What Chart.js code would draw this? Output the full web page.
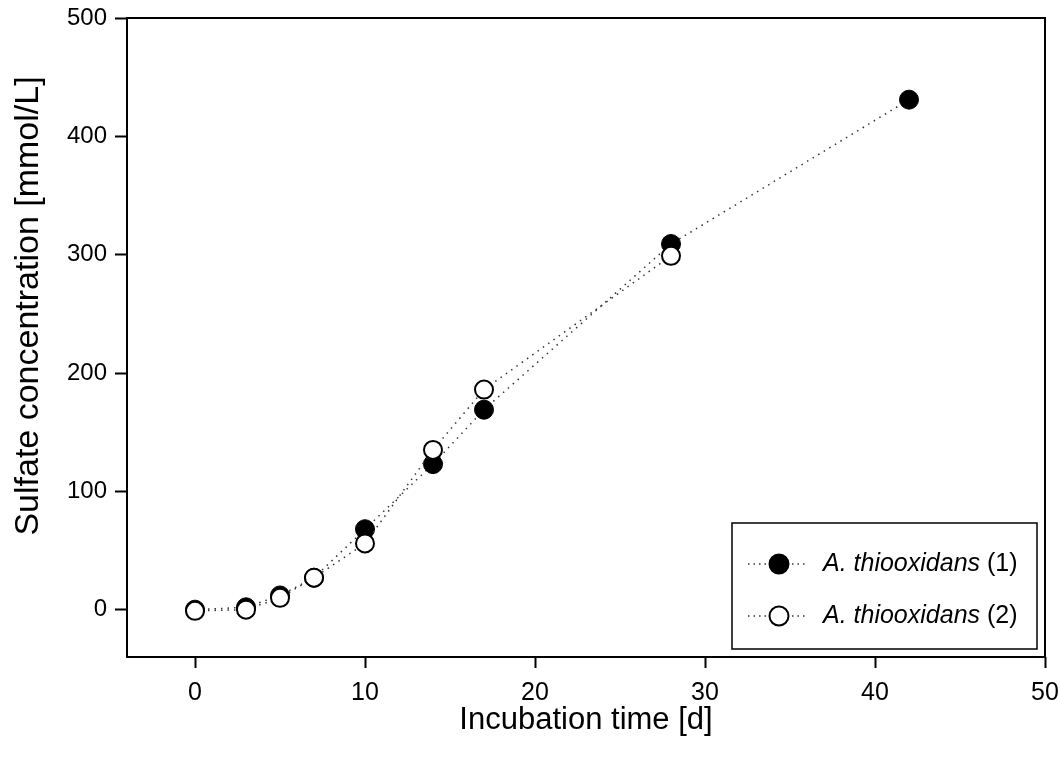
<!DOCTYPE html>
<html>
<head>
<meta charset="utf-8">
<script src="https://cdn.jsdelivr.net/npm/chart.js@4"></script>
<style>
  html, body { margin: 0; padding: 0; background: #fff; }
  #wrap { width: 1060px; height: 764px; }
</style>
</head>
<body>
<div id="wrap"><canvas id="sulfate" width="1060" height="764"></canvas></div>
<script>
// incubation days and sulfate values [mmol/L]
const days = [0, 3, 5, 7, 10, 14, 17, 28, 42];
const culture1 = [0, 2, 12, 27, 68, 123, 169, 309, 431];
const days2 = [0, 3, 5, 7, 10, 14, 17, 28];
const culture2 = [-1, 0, 10, 27, 56, 135, 186, 299];
const xTicks = [0, 10, 20, 30, 40, 50];
const yTicks = [0, 100, 200, 300, 400, 500];
const yTitle = 'Sulfate concentration [mmol/L]';

const toPoints = (xs, ys) => xs.map((x, i) => ({ x: x, y: ys[i] }));
const FONT = '"Liberation Sans", Arial, sans-serif';

// frame round the plot area (top + right sides too) and the y title,
// which sits a bit above the middle of the axis in the original
const frame = {
    id: 'frame',
    afterDraw(chart) {
        const a = chart.chartArea, c = chart.ctx;
        c.save();
        c.strokeStyle = '#000';
        c.lineWidth = 2;
        c.strokeRect(a.left, a.top, a.right - a.left, a.bottom - a.top);
        c.translate(29, 306);
        c.rotate(-Math.PI / 2);
        c.fillStyle = '#000';
        c.font = '34px ' + FONT;
        c.textAlign = 'center';
        c.textBaseline = 'middle';
        c.fillText(yTitle, 0, 0);
        c.restore();
    }
};

// boxed legend in the lower right corner, like the original
const boxLegend = {
    id: 'boxLegend',
    afterDraw(chart) {
        const c = chart.ctx;
        const a = chart.chartArea;
        const bx = a.right - 313, by = a.bottom - 134, bw = 305, bh = 126;
        c.save();
        c.fillStyle = '#fff';
        c.fillRect(bx, by, bw, bh);
        c.strokeStyle = '#000';
        c.lineWidth = 1.5;
        c.strokeRect(bx, by, bw, bh);
        chart.data.datasets.forEach((ds, i) => {
            const cy = by + 41 + i * 52;
            const cx = bx + 47;
            c.strokeStyle = '#333';
            c.lineWidth = 1.5;
            c.setLineDash([1.5, 4]);
            c.beginPath();
            c.moveTo(bx + 16, cy);
            c.lineTo(bx + 74, cy);
            c.stroke();
            c.setLineDash([]);
            c.beginPath();
            c.arc(cx, cy, 9.5, 0, Math.PI * 2);
            c.fillStyle = ds.pointBackgroundColor;
            c.fill();
            c.lineWidth = 2;
            c.strokeStyle = '#000';
            c.stroke();
            c.fillStyle = '#000';
            c.textBaseline = 'middle';
            c.font = 'italic 25px ' + FONT;
            const name = ds.label.replace(/ \(\d\)$/, '');
            const tail = ds.label.slice(name.length);
            let tx = bx + 91;
            c.fillText(name, tx, cy);
            tx += c.measureText(name).width;
            c.font = '25px ' + FONT;
            c.fillText(tail, tx, cy);
        });
        c.restore();
    }
};

const ctx = document.getElementById('sulfate').getContext('2d');
const sulfateChart = new Chart(ctx, {
    type: 'scatter',
    data: {
        datasets: [
            {
                label: 'A. thiooxidans (1)',
                data: toPoints(days, culture1),
                showLine: true,
                borderColor: '#333',
                borderWidth: 1.5,
                borderDash: [1.5, 5],
                pointRadius: 9.5,
                pointHoverRadius: 9.5,
                pointBackgroundColor: '#000',
                pointBorderColor: '#000',
                pointBorderWidth: 1,
                order: 2
            },
            {
                label: 'A. thiooxidans (2)',
                data: toPoints(days2, culture2),
                showLine: true,
                borderColor: '#333',
                borderWidth: 1.5,
                borderDash: [1.5, 5],
                pointRadius: 9,
                pointHoverRadius: 9,
                pointBackgroundColor: '#fff',
                pointBorderColor: '#000',
                pointBorderWidth: 2,
                order: 1
            }
        ]
    },
    options: {
        responsive: false,
        animation: false,
        events: [],
        layout: { padding: { top: 18, right: 15, left: 0, bottom: 0 } },
        plugins: {
            legend: { display: false },
            tooltip: { enabled: false }
        },
        scales: {
            x: {
                type: 'linear',
                min: -4,
                max: 50,
                afterBuildTicks: (s) => { s.ticks = xTicks.map(v => ({ value: v })); },
                afterFit: (s) => { s.height = 107; s.paddingLeft = 0; s.paddingRight = 0; },
                grid: { display: true, drawOnChartArea: false, drawTicks: true, tickLength: 11, tickColor: '#000', tickWidth: 2 },
                border: { display: false },
                ticks: {
                    color: '#000',
                    padding: 10,
                    font: { family: FONT, size: 25 }
                },
                title: {
                    display: true,
                    text: 'Incubation time [d]',
                    color: '#000',
                    padding: { top: 0, bottom: 25 },
                    font: { family: FONT, size: 31 }
                }
            },
            y: {
                min: -40,
                max: 500,
                afterBuildTicks: (s) => { s.ticks = yTicks.map(v => ({ value: v })); },
                afterFit: (s) => { s.width = 127; s.paddingTop = 0; s.paddingBottom = 0; },
                grid: { display: true, drawOnChartArea: false, drawTicks: true, tickLength: 12, tickColor: '#000', tickWidth: 2 },
                border: { display: false },
                ticks: {
                    color: '#000',
                    padding: 8,
                    font: { family: FONT, size: 24 }
                },
                title: { display: false }
            }
        }
    },
    plugins: [frame, boxLegend]
});
</script>
</body>
</html>
